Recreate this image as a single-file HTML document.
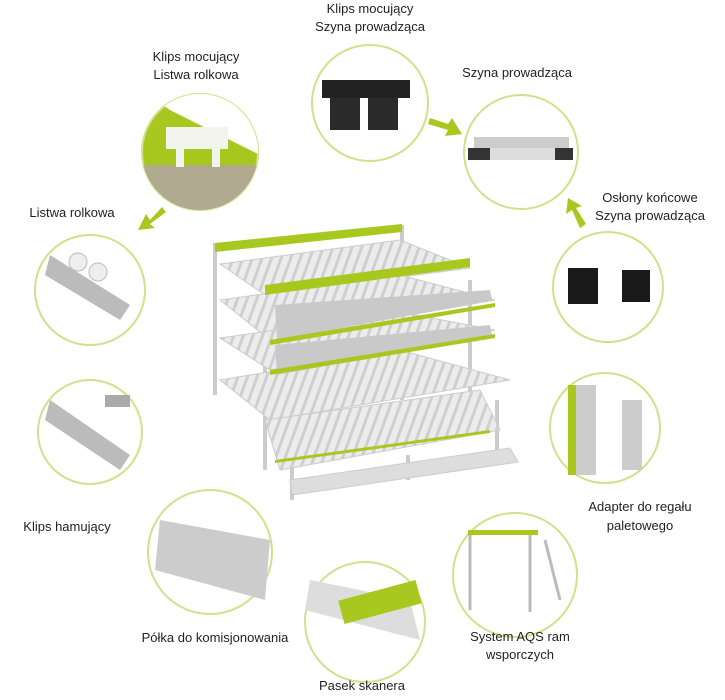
<!DOCTYPE html>
<html><head><meta charset="utf-8"><style>
body{margin:0;background:#fff;}
svg{display:block;font-family:"Liberation Sans",sans-serif;}
text{font-size:13px;fill:#222;}
</style></head><body>
<svg width="725" height="700" viewBox="0 0 725 700">
<defs>
<pattern id="rl" width="9" height="9" patternUnits="userSpaceOnUse" patternTransform="rotate(20)">
<rect width="9" height="9" fill="#ececec"/><rect width="3" height="9" fill="#cfcfcf"/>
</pattern>
</defs>
<g fill="#fff" stroke="#d3df8a" stroke-width="2">
<circle cx="370" cy="103" r="58"/>
<circle cx="521" cy="152" r="57"/>
<circle cx="90" cy="290" r="55"/>
<circle cx="608" cy="287" r="55"/>
<circle cx="90" cy="432" r="52"/>
<circle cx="605" cy="428" r="55"/>
<circle cx="210" cy="552" r="62"/>
<circle cx="365" cy="622" r="60"/>
<circle cx="515" cy="575" r="62"/>
</g>
<clipPath id="c1"><circle cx="200" cy="152" r="58"/></clipPath>
<circle cx="200" cy="152" r="58" fill="#a8c820" stroke="#d3df8a" stroke-width="2"/>
<g clip-path="url(#c1)">
<polygon points="140,90 270,90 270,160 170,110" fill="#fff"/>
<rect x="140" y="165" width="130" height="50" fill="#b0aa90"/>
<rect x="166" y="127" width="62" height="22" fill="#f4f4ee"/>
<rect x="176" y="149" width="8" height="18" fill="#f4f4ee"/>
<rect x="212" y="149" width="8" height="18" fill="#f4f4ee"/>
</g>
<rect x="322" y="80" width="88" height="18" fill="#222"/>
<rect x="330" y="98" width="30" height="32" fill="#2a2a2a"/>
<rect x="368" y="98" width="30" height="32" fill="#2a2a2a"/>
<rect x="474" y="137" width="95" height="14" fill="#ccc"/>
<rect x="468" y="148" width="105" height="12" fill="#333"/>
<rect x="490" y="148" width="65" height="12" fill="#ddd"/>
<rect x="568" y="268" width="30" height="36" fill="#1a1a1a"/>
<rect x="622" y="270" width="28" height="32" fill="#1a1a1a"/>
<polygon points="50,255 130,305 120,320 45,275" fill="#bbb"/>
<circle cx="78" cy="262" r="9" fill="#eee" stroke="#bbb"/><circle cx="98" cy="272" r="9" fill="#eee" stroke="#bbb"/>
<polygon points="50,400 130,455 120,470 45,420" fill="#bbb"/>
<rect x="105" y="395" width="25" height="12" fill="#aaa"/>
<polygon points="160,520 270,540 265,600 155,570" fill="#ccc"/>
<polygon points="310,580 410,600 420,640 305,610" fill="#ddd"/>
<rect x="340" y="590" width="80" height="24" fill="#a8c820" transform="rotate(-15 380 602)"/>
<g stroke="#bbb" stroke-width="3" fill="none">
<line x1="470" y1="535" x2="470" y2="610"/><line x1="530" y1="535" x2="530" y2="612"/><line x1="545" y1="540" x2="560" y2="600"/>
</g>
<rect x="468" y="530" width="70" height="5" fill="#a8c820"/>
<rect x="568" y="385" width="8" height="90" fill="#a8c820"/>
<rect x="576" y="385" width="20" height="90" fill="#ccc"/>
<rect x="622" y="400" width="20" height="70" fill="#ccc"/>
<g fill="#a8c820">
<polygon points="430,118 448,124 452,118 462,134 445,136 448,130 428,124"/>
<polygon points="580,228 572,210 566,214 568,198 582,206 576,208 586,224"/>
<polygon points="162,207 150,220 146,214 138,230 155,228 150,224 166,212"/>
</g>
<!-- rack -->
<g stroke="#ccc" stroke-width="4" fill="none">
<line x1="215" y1="243" x2="215" y2="395"/><line x1="402" y1="225" x2="402" y2="400"/>
<line x1="265" y1="285" x2="265" y2="470"/><line x1="470" y1="280" x2="470" y2="420"/>
<line x1="292" y1="455" x2="292" y2="500"/><line x1="497" y1="400" x2="497" y2="455"/>
<line x1="408" y1="455" x2="408" y2="480"/>
</g>
<g fill="url(#rl)" stroke="#ccc">
<polygon points="220,264 400,240 470,268 265,295"/>
<polygon points="220,300 400,275 495,300 270,340"/>
<polygon points="220,338 400,312 495,330 270,370"/>
<polygon points="220,380 400,350 510,380 270,420"/>
<polygon points="265,420 480,390 500,430 280,470"/>
</g>
<polygon points="290,480 510,448 518,462 292,495" fill="#ddd" stroke="#ccc"/>
<polygon points="275,305 490,290 492,300 277,340" fill="#c9c9c9"/>
<polygon points="275,345 490,325 492,335 277,375" fill="#c9c9c9"/>
<g fill="#a8c820">
<polygon points="215,243 402,224 402,232 215,252"/>
<polygon points="265,285 470,258 470,267 265,295"/>
<polygon points="270,340 495,303 495,307 270,345"/>
<polygon points="270,370 495,334 495,338 270,375"/>
<polygon points="275,460 490,430 490,433 275,463"/>
</g>
<g text-anchor="middle">
<text x="370" y="13">Klips mocujący</text><text x="370" y="31">Szyna prowadząca</text>
<text x="196" y="61">Klips mocujący</text><text x="196" y="79">Listwa rolkowa</text>
<text x="517" y="77">Szyna prowadząca</text>
<text x="650" y="202">Osłony końcowe</text><text x="650" y="220">Szyna prowadząca</text>
<text x="72" y="217">Listwa rolkowa</text>
<text x="640" y="511">Adapter do regału</text><text x="640" y="530">paletowego</text>
<text x="67" y="531">Klips hamujący</text>
<text x="215" y="642">Półka do komisjonowania</text>
<text x="520" y="641">System AQS ram</text><text x="520" y="659">wsporczych</text>
<text x="362" y="690">Pasek skanera</text>
</g>
</svg>
</body></html>
